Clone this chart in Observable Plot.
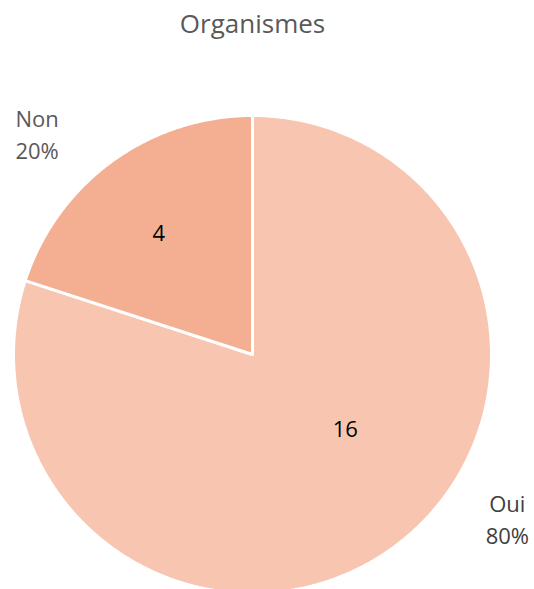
<!DOCTYPE html>
<html><head><meta charset="utf-8">
<script src="https://cdn.jsdelivr.net/npm/d3@7"></script>
<script src="https://cdn.jsdelivr.net/npm/@observablehq/plot@0.6"></script>
<style>body{margin:0;background:#fff;} svg{display:block;}</style>
</head><body>
<div id="chart"></div>
<script>
const title = "Organismes";
const categories = ["Oui", "Non"];
const values = [16, 4];
const colors = ["#F8C5B1", "#F4AF92"];

const W = 534, H = 589;
const cx = 252, cy = 354, R = 239;
const total = d3.sum(values);
const pie = d3.pie().sort(null).value(d => d.value).startAngle(0).endAngle(2 * Math.PI);
const data = categories.map((c, i) => ({cat: c, value: values[i], color: colors[i], pct: Math.round(values[i] / total * 100) + "%"}));
const arcs = pie(data);

const pt = (a, r) => ({x: cx + r * Math.sin(a), y: cy - r * Math.cos(a)});
const poly = [];
arcs.forEach(a => {
  poly.push({cat: a.data.cat, color: a.data.color, ...pt(0, 0)});
  const n = 200;
  for (let k = 0; k <= n; k++) {
    const ang = a.startAngle + (a.endAngle - a.startAngle) * k / n;
    poly.push({cat: a.data.cat, color: a.data.color, ...pt(ang, R)});
  }
  poly.push({cat: a.data.cat, color: a.data.color, ...pt(0, 0)});
});

// value labels inside slices
const inner = {Oui: {da: -0.26, f: 0.5}, Non: {da: -0.03, f: 0.64}};
const valueLabels = arcs.map(a => {
  const m = (a.startAngle + a.endAngle) / 2 + inner[a.data.cat].da;
  return {text: String(a.data.value), ...pt(m, R * inner[a.data.cat].f)};
});
// category labels outside
const outer = {Oui: {da: -0.373, f: 1.266}, Non: {da: -0.190, f: 1.359}};
const catLabels = arcs.map(a => {
  const m = (a.startAngle + a.endAngle) / 2 + outer[a.data.cat].da;
  return {text: a.data.cat + "\n" + a.data.pct, cat: a.data.cat, ...pt(m, R * outer[a.data.cat].f)};
});

const font = "'Open Sans', sans-serif";
const chart = Plot.plot({
  width: W, height: H,
  margin: 0,
  x: {domain: [0, W], axis: null},
  y: {domain: [0, H], range: [0, H], axis: null},
  style: {fontFamily: font, background: "#fff"},
  marks: [
    Plot.line(poly, {x: "x", y: "y", z: "cat", fill: "color", stroke: "white", strokeWidth: 3, strokeLinejoin: "miter", curve: "linear"}),
    Plot.text(valueLabels, {x: "x", y: "y", text: "text", fontSize: 22, fill: "#000"}),
    Plot.text(catLabels.filter(d => d.cat === "Non"), {x: "x", y: "y", text: "text", fontSize: 22, fill: "#595959", textAnchor: "start", lineHeight: 1.45}),
    Plot.text(catLabels.filter(d => d.cat === "Oui"), {x: "x", y: "y", text: "text", fontSize: 22, fill: "#404040", textAnchor: "middle", lineHeight: 1.45}),
    Plot.text([title], {frameAnchor: "top", dx: -15, dy: 24, lineAnchor: "middle", text: d => d, fontSize: 26, fill: "#595959"})
  ]
});
document.getElementById("chart").append(chart);
</script>
</body></html>
